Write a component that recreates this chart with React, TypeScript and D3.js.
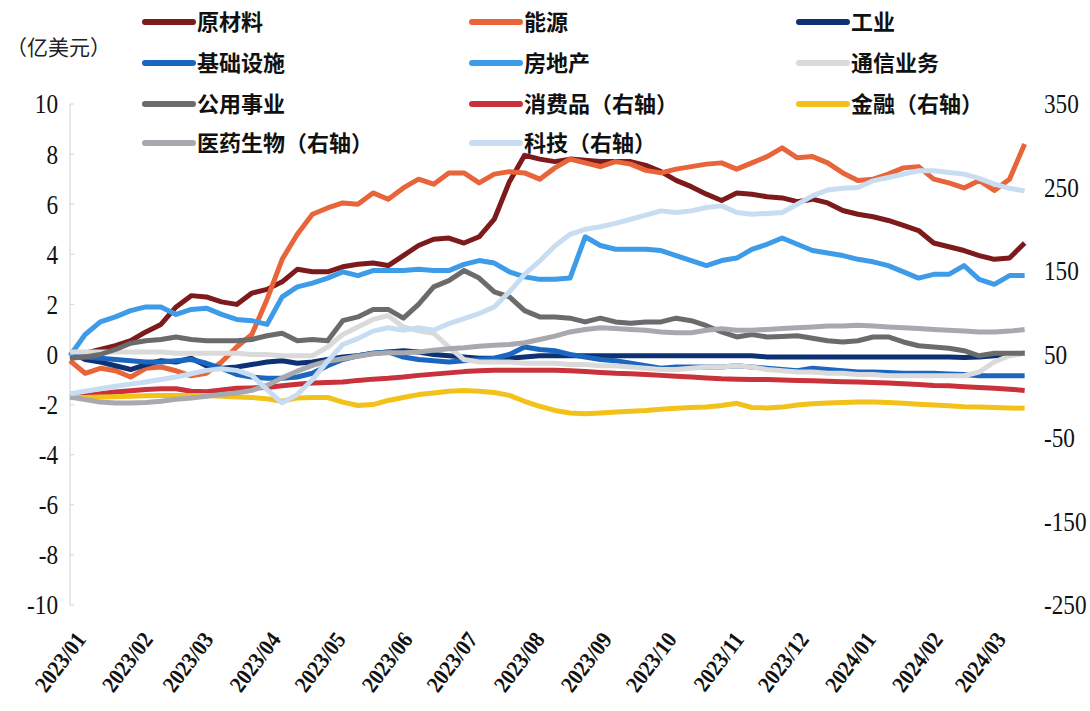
import React from "react";
import * as d3 from "d3";

// ---- data (weekly, from 2023-01-01) ----
const START = new Date(2023, 0, 1);
const N_WEEKS = 64;

// left axis (亿美元)
const rawMaterials = [0.0,0.05,0.2,0.35,0.55,0.9,1.2,1.9,2.35,2.3,2.1,2.0,2.45,2.6,2.9,3.4,3.3,3.3,3.5,3.6,3.65,3.55,3.95,4.35,4.6,4.65,4.45,4.7,5.4,6.9,7.95,7.8,7.7,7.8,7.75,7.7,7.7,7.7,7.55,7.3,6.95,6.7,6.4,6.15,6.45,6.4,6.3,6.25,6.1,6.2,6.05,5.75,5.6,5.5,5.35,5.15,4.95,4.45,4.3,4.15,3.95,3.8,3.85,4.45];
const energy = [-0.25,-0.75,-0.55,-0.65,-0.9,-0.55,-0.5,-0.65,-0.85,-0.75,-0.3,0.3,0.8,2.2,3.8,4.8,5.6,5.85,6.05,6.0,6.45,6.2,6.65,7.0,6.8,7.25,7.25,6.85,7.2,7.3,7.25,7.0,7.45,7.8,7.65,7.5,7.7,7.6,7.35,7.25,7.4,7.5,7.6,7.65,7.4,7.65,7.9,8.25,7.85,7.9,7.65,7.25,6.95,7.0,7.2,7.45,7.5,7.0,6.85,6.65,6.95,6.55,7.0,8.4];
const industrial = [0.1,-0.2,-0.3,-0.45,-0.6,-0.4,-0.25,-0.3,-0.15,-0.45,-0.55,-0.5,-0.4,-0.3,-0.25,-0.35,-0.3,-0.2,-0.1,-0.05,0.05,0.1,0.15,0.1,0.0,-0.05,-0.1,-0.15,-0.15,-0.15,-0.1,-0.05,-0.05,-0.05,-0.05,-0.05,-0.05,-0.05,-0.05,-0.05,-0.05,-0.05,-0.05,-0.05,-0.05,-0.05,-0.1,-0.1,-0.1,-0.1,-0.1,-0.1,-0.1,-0.1,-0.1,-0.1,-0.1,-0.1,-0.1,-0.12,-0.1,-0.05,0.0,0.05];
const infrastructure = [-0.05,-0.1,-0.15,-0.2,-0.25,-0.3,-0.3,-0.25,-0.2,-0.35,-0.55,-0.8,-0.9,-0.95,-0.95,-0.9,-0.75,-0.45,-0.2,-0.05,0.05,0.1,-0.1,-0.2,-0.25,-0.3,-0.25,-0.2,-0.15,0.0,0.3,0.2,0.15,0.0,-0.1,-0.2,-0.25,-0.35,-0.45,-0.55,-0.5,-0.5,-0.5,-0.5,-0.45,-0.5,-0.55,-0.6,-0.65,-0.55,-0.6,-0.65,-0.7,-0.7,-0.72,-0.75,-0.75,-0.75,-0.78,-0.8,-0.85,-0.85,-0.85,-0.85];
const realEstate = [-0.05,0.8,1.3,1.5,1.75,1.9,1.9,1.6,1.8,1.85,1.6,1.4,1.35,1.2,2.3,2.7,2.85,3.05,3.3,3.15,3.35,3.35,3.35,3.4,3.35,3.35,3.6,3.75,3.65,3.3,3.1,3.0,3.0,3.05,4.7,4.35,4.2,4.2,4.2,4.15,3.95,3.75,3.55,3.75,3.85,4.2,4.4,4.65,4.4,4.15,4.05,3.95,3.8,3.7,3.55,3.3,3.05,3.2,3.2,3.55,3.0,2.8,3.15,3.15];
const telecom = [0.1,0.1,0.1,0.1,0.1,0.1,0.1,0.05,0.05,0.05,0.05,0.05,0.0,0.0,-0.05,-0.05,-0.05,0.3,0.8,1.1,1.4,1.55,1.1,0.95,0.85,0.3,-0.2,-0.3,-0.3,-0.3,-0.35,-0.35,-0.35,-0.4,-0.4,-0.45,-0.45,-0.5,-0.55,-0.6,-0.6,-0.55,-0.5,-0.5,-0.45,-0.5,-0.6,-0.65,-0.7,-0.7,-0.75,-0.75,-0.8,-0.8,-0.85,-0.85,-0.85,-0.85,-0.85,-0.85,-0.7,-0.3,-0.05,0.05];
const utilities = [-0.15,-0.1,0.0,0.2,0.45,0.55,0.6,0.7,0.6,0.55,0.55,0.55,0.6,0.75,0.85,0.55,0.6,0.55,1.35,1.5,1.8,1.8,1.45,2.0,2.7,2.95,3.35,3.05,2.5,2.3,1.75,1.5,1.5,1.45,1.3,1.45,1.3,1.25,1.3,1.3,1.45,1.35,1.15,0.9,0.7,0.8,0.7,0.72,0.75,0.65,0.55,0.5,0.55,0.7,0.7,0.5,0.35,0.3,0.25,0.15,-0.05,0.05,0.05,0.05];

// right axis
const consumer = [-1,1,3,5,6.5,8,9,9,6,5.5,7.5,9.5,10,10.5,12.5,14.5,16,16.5,17,19,20.5,21.5,23,25,26.5,28,29.5,30.5,31,31,31,31,31,30.5,29.5,28.5,27.5,27,26,25,24,23,22,21,20.5,20,20,19.5,19,18.5,18,17.5,17,16.5,16,15,14,13,12.5,11.5,10.5,9.5,8.5,7];
const finance = [-1.5,-1.5,-1,-0.5,0,0.5,1,1,1,1,0,-1,-1.5,-3,-6,-2,-1.5,-1.5,-7,-11,-10,-5,-1.5,2,4,6,7,6,4.5,1,-6,-12,-17,-20,-21,-20,-19,-18,-17,-15.5,-14.5,-13.5,-13,-11,-8.5,-13.5,-14,-13,-10.5,-9,-8,-7.5,-7,-7,-7.5,-8.5,-9.5,-10.5,-11.5,-12.5,-13,-13.5,-14,-14.5];
const healthcare = [-1,-4,-7,-8,-8,-7.5,-6,-3.5,-2,0,2,4,7,13,22,30,37,42,45,48,51,52,52,53,55,57,58,60,61,62,64,68,72,77,80,82,81,80,79,77,76,76,79,81,79,79,80,81,82,83,84,84,85,84,83,82,81,80,79,78,77,77,78,80];
const tech = [3,6,9,12,14.5,17,20,23,27,31,33,31,25,8,-8,2,20,42,62,69,78,82,79,82,79,87,93,99,107,125,146,162,180,194,200,203,207,212,217,222,220,222,226,228,220,218,219,220,230,240,247,249,250,258,262,266,270,270,268,266,261,254,249,246];

const leftTicks = [10, 8, 6, 4, 2, 0, -2, -4, -6, -8, -10];
const rightTicks = [350, 250, 150, 50, -50, -150, -250];
const yAxisTitle = "（亿美元）";

type S = { name: string; values: number[]; color: string; axis: "L" | "R" };
const series: S[] = [
  { name: "原材料", values: rawMaterials, color: "#7d1a1c", axis: "L" },
  { name: "能源", values: energy, color: "#e8653b", axis: "L" },
  { name: "工业", values: industrial, color: "#0c3274", axis: "L" },
  { name: "基础设施", values: infrastructure, color: "#1a66c0", axis: "L" },
  { name: "房地产", values: realEstate, color: "#3d9be8", axis: "L" },
  { name: "通信业务", values: telecom, color: "#dadada", axis: "L" },
  { name: "公用事业", values: utilities, color: "#6b6b6b", axis: "L" },
  { name: "消费品（右轴）", values: consumer, color: "#c9323b", axis: "R" },
  { name: "金融（右轴）", values: finance, color: "#f2c21a", axis: "R" },
  { name: "医药生物（右轴）", values: healthcare, color: "#a7a9ae", axis: "R" },
  { name: "科技（右轴）", values: tech, color: "#c8ddf1", axis: "R" },
];

const dates = d3.range(N_WEEKS).map((i) => new Date(2023, 0, 1 + 7 * i));
const months = d3.timeMonth.range(new Date(2023, 0, 1), new Date(2024, 3, 1));

export default function App() {
  const W = 1090, H = 711;
  const top = 104, bottom = 605;
  const x = d3.scaleTime().domain([START, new Date(2024, 2, 1)]).range([70, 990]);
  const yL = d3.scaleLinear().domain([-10, 10]).range([bottom, top]);
  const yR = d3.scaleLinear().domain([-250, 350]).range([bottom, top]);
  const fmt = d3.timeFormat("%Y/%m");
  const serif = "'Liberation Serif', 'Times New Roman', serif";
  const cjk = "'Noto Sans CJK SC', sans-serif";

  const legendCols = [145, 472, 799];
  const legendRows = [22, 63, 104, 143];

  return (
    <svg width={W} height={H} style={{ position: "absolute", left: 0, top: 0, background: "#fff" }}>
      {/* left axis */}
      <line x1={70} x2={70} y1={yL(10)} y2={yL(-10)} stroke="#d9d9d9" strokeWidth={1.2} />
      {leftTicks.map((t) => (
        <g key={t}>
          <line x1={70} x2={74} y1={yL(t)} y2={yL(t)} stroke="#d9d9d9" strokeWidth={1.2} />
          <text
            transform={`translate(58,${yL(t)}) scale(0.86,1)`}
            dy="0.35em"
            textAnchor="end"
            fontFamily={serif}
            fontSize={27}
            fill="#111"
          >
            {t}
          </text>
        </g>
      ))}
      {rightTicks.map((t) => (
        <text
          key={t}
          transform={`translate(1044,${yR(t)}) scale(0.86,1)`}
          dy="0.35em"
          textAnchor="start"
          fontFamily={serif}
          fontSize={27}
          fill="#111"
        >
          {t}
        </text>
      ))}
      <text x={6} y={48} dy="0.35em" fontFamily={cjk} fontSize={21} fill="#222">
        {yAxisTitle}
      </text>

      {/* x labels */}
      {months.map((m) => (
        <text
          key={m.toISOString()}
          transform={`translate(${x(m) + 4},${630}) rotate(-53) scale(0.9,1)`}
          textAnchor="end"
          dy="0.7em"
          fontFamily={serif}
          fontWeight="bold"
          fontSize={23}
          fill="#111"
        >
          {fmt(m)}
        </text>
      ))}

      {/* lines */}
      {series.map((s) => {
        const y = s.axis === "L" ? yL : yR;
        const line = d3
          .line<number>()
          .x((_, i) => x(dates[i]))
          .y((d) => y(d));
        return (
          <path
            key={s.name}
            d={line(s.values) || ""}
            fill="none"
            stroke={s.color}
            strokeWidth={5}
            strokeLinejoin="round"
            strokeLinecap="butt"
          />
        );
      })}

      {/* legend */}
      {series.map((s, i) => {
        const lx = legendCols[i % 3];
        const ly = legendRows[Math.floor(i / 3)];
        return (
          <g key={"lg" + s.name}>
            <line x1={lx} x2={lx + 48} y1={ly} y2={ly} stroke={s.color} strokeWidth={6} strokeLinecap="round" />
            <text x={lx + 52} y={ly} dy="0.36em" fontFamily={cjk} fontWeight="bold" fontSize={22} fill="#111">
              {s.name}
            </text>
          </g>
        );
      })}
    </svg>
  );
}
